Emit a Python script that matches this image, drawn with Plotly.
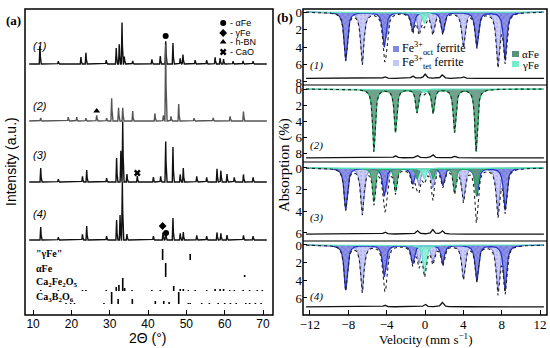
import numpy as np
import plotly.graph_objects as go

# ---------------- Panel (a): XRD patterns ----------------
two_theta_ticks = [10, 20, 30, 40, 50, 60, 70]

xrd1_pos = [11.8, 16.6, 22.5, 23.8, 29.1, 31.7, 32.5, 33.2, 33.8, 36.0, 41.0, 43.2, 44.6, 46.5, 48.4, 49.1, 52.3, 55.3, 57.5, 58.8, 59.7, 62.2, 64.8, 67.4]
xrd1_int = [19, 3, 7, 12, 4, 17, 21, 44, 8, 3, 5, 8, 24, 21, 6, 10, 4, 4, 7, 6, 5, 3, 3, 3]

xrd2_pos = [12.0, 19.2, 21.4, 23.8, 26.6, 29.2, 30.5, 32.3, 33.4, 36.0, 41.8, 44.0, 44.6, 46.0, 48.0, 52.0, 57.0, 61.4, 64.9]
xrd2_int = [3, 4, 4, 3, 6, 3, 24, 14, 14, 10, 8, 6, 81, 5, 17, 3, 3, 5, 10]

xrd3_pos = [12.0, 16.6, 22.9, 24.0, 29.2, 31.8, 32.9, 33.4, 34.5, 37.2, 41.4, 43.3, 44.6, 46.5, 48.4, 49.2, 52.7, 55.3, 58.0, 59.0, 60.6, 62.5, 64.9, 67.4]
xrd3_int = [14, 3, 6, 12, 4, 24, 33, 64, 8, 6, 5, 6, 43, 35, 8, 14, 6, 5, 14, 12, 8, 5, 8, 5]

xrd4_pos = [12.0, 16.6, 22.9, 24.0, 29.2, 31.8, 32.7, 33.3, 34.5, 41.4, 43.9, 44.6, 46.5, 48.4, 49.2, 52.7, 55.3, 58.0, 59.0, 60.6, 64.9, 67.4]
xrd4_int = [13, 3, 6, 14, 4, 20, 25, 58, 6, 4, 8, 8, 22, 7, 8, 5, 4, 8, 7, 5, 5, 4]

xrd_offsets = [251, 194, 133, 75]
xrd_labels = ["(1)", "(2)", "(3)", "(4)"]

# reference stick patterns
ref_names = ['"γFe"', "αFe", "Ca<sub>2</sub>Fe<sub>2</sub>O<sub>5</sub>", "Ca<sub>3</sub>B<sub>2</sub>O<sub>6</sub>"]
ref_offsets = [55, 38, 24, 11]
gfe_pos = [43.8, 51.0]
gfe_int = [11, 6]
afe_pos = [44.6, 65.2]
afe_int = [14, 2]
cfo_pos = [12.0, 16.6, 22.9, 23.8, 29.1, 31.7, 32.4, 33.4, 33.9, 35.8, 41.0, 43.2, 46.7, 48.4, 49.2, 50.5, 52.3, 55.3, 57.5, 58.8, 59.7, 61.3, 62.5, 64.8, 66.5, 68.5, 69.8]
cfo_int = [1, 1, 1, 1, 1, 4, 6, 13, 3, 1, 1, 1, 5, 2, 2, 1, 1, 1, 2, 2, 2, 1, 1, 1, 1, 1, 1]
cbo_pos = [18.6, 19.8, 20.8, 28.5, 30.5, 32.2, 35.9, 41.9, 44.1, 45.5, 48.0, 50.5, 51.0, 54.0, 56.0, 58.3, 60.0, 61.5, 63.0, 65.5, 66.5, 68.0, 69.5]
cbo_int = [1, 1, 1, 1, 12, 5, 5, 3, 3, 2, 12, 1, 1, 1, 1, 1, 1, 1, 1, 1, 1, 1, 1]

# phase markers on patterns
mark_x = [44.6, 26.6, 37.2, 43.8, 44.7]
mark_y = [279, 204, 142, 89, 82]
mark_sym = ["circle", "triangle-up", "x", "diamond", "circle"]
legend_a_sym = ["circle", "diamond", "triangle-up", "x"]
legend_a_txt = ["- αFe", "- γFe", "- h-BN", "- CaO"]

# ---------------- Panel (b): Mössbauer spectra ----------------
vel_ticks = [-12, -8, -4, 0, 4, 8, 12]
oct1_v = [-8.27, -4.25, -1.28, 1.85, 5.4, 8.35]; oct1_d = [5.5, 4.0, 2.2, 2.4, 4.0, 5.5]
tet1_v = [-6.54, -4.05, -0.62, 0.81, 4.0, 7.6];  tet1_d = [5.9, 2.9, 2.2, 2.4, 3.9, 6.0]
gfe1_v = [-0.08]; gfe1_d = [1.3]

afe2_v = [-5.33, -3.08, -0.84, 0.84, 3.08, 5.33]; afe2_d = [7.8, 5.4, 2.9, 3.0, 5.4, 7.8]
gfe2_v = [-0.1]; gfe2_d = [0.5]

oct3_v = [-8.27, -4.25, -1.28, 1.85, 5.4, 8.35]; oct3_d = [3.85, 2.6, 1.5, 1.6, 2.6, 3.9]
tet3_v = [-6.54, -4.05, -0.62, 0.81, 4.0, 7.6];  tet3_d = [4.2, 2.2, 1.6, 1.8, 3.0, 4.3]
afe3_v = [-5.33, -3.08, -0.84, 0.84, 3.08, 5.33]; afe3_d = [3.15, 2.2, 1.0, 1.0, 2.2, 2.5]
gfe3_v = [-0.08]; gfe3_d = [1.0]

oct4_v = [-8.27, -4.25, -1.28, 1.85, 5.4, 8.35]; oct4_d = [5.1, 3.6, 2.1, 2.2, 4.1, 5.2]
tet4_v = [-6.54, -4.05, -0.62, 0.81, 4.0, 7.6];  tet4_d = [5.3, 2.8, 2.0, 1.9, 3.8, 5.3]
gfe4_v = [-0.05]; gfe4_d = [3.2]

resid_levels = [7.6, 8.6, 6.1, 7.0]
resid1_v = [-4.2, -1.3, 0.0, 1.8, 4.0]; resid1_d = [-0.2, -0.3, -0.5, -0.4, -0.2]
resid2_v = [-3.1, -0.8, 0.8, 3.1]; resid2_d = [-0.3, -0.3, -0.4, -0.2]
resid3_v = [-4.2, -0.8, 0.8, 1.8]; resid3_d = [-0.2, -0.3, -0.4, -0.3]
resid4_v = [-4.2, 0.0, 1.8]; resid4_d = [-0.2, -0.3, -0.5]

sub_ranges = [[8.35, -0.35], [9.12, -0.5], [6.74, -0.55], [7.93, -0.45]]
sub_ticks = [[0, 2, 4, 6, 8], [0, 2, 4, 6, 8], [0, 2, 4, 6], [0, 2, 4, 6]]
sub_rows = [(9, 85), (85, 162), (162, 241), (241, 315)]

# ---------------- helpers ----------------
W, H = 550, 348
def P(px): return px / W
def Q(row): return 1 - row / H

FRAME_A = (25, 273, 9, 315)
FRAME_B = (303, 547, 9, 315)

SANS = "Liberation Sans, Arial, sans-serif"
SERIF = "Liberation Serif, Times New Roman, serif"

tt = np.arange(9.0, 71.0, 0.03)
def xrd_profile(pos, inten, base, hw=0.18):
    y = np.full_like(tt, float(base))
    for p, h in zip(pos, inten):
        y += h * np.clip(1 - np.abs(tt - p) / hw, 0, None)
    return y

vv = np.linspace(-12.4, 12.4, 2500)
def lor(vpos, depth, g):
    y = np.zeros_like(vv)
    for p, d in zip(vpos, depth):
        y += d * g * g / ((vv - p) ** 2 + g * g)
    return y

fig = go.Figure()

# ---- panel (a) traces ----
pats = [(xrd1_pos, xrd1_int), (xrd2_pos, xrd2_int), (xrd3_pos, xrd3_int), (xrd4_pos, xrd4_int)]
for i, (pp, ii) in enumerate(pats):
    col = "#555555" if i == 1 else "#111111"
    fig.add_trace(go.Scatter(x=tt, y=xrd_profile(pp, ii, xrd_offsets[i]), mode="lines",
                             line=dict(color=col, width=1.4), xaxis="x", yaxis="y", hoverinfo="skip"))

refs = [(gfe_pos, gfe_int), (afe_pos, afe_int), (cfo_pos, cfo_int), (cbo_pos, cbo_int)]
for i, (pp, ii) in enumerate(refs):
    xs, ys = [], []
    for p, h in zip(pp, ii):
        xs += [p, p, None]
        ys += [ref_offsets[i], ref_offsets[i] + h, None]
    fig.add_trace(go.Scatter(x=xs, y=ys, mode="lines", line=dict(color="black", width=1.6),
                             xaxis="x", yaxis="y", hoverinfo="skip"))

fig.add_trace(go.Scatter(x=mark_x, y=mark_y, mode="markers",
                         marker=dict(symbol=mark_sym, size=6, color="black"),
                         xaxis="x", yaxis="y", hoverinfo="skip"))
leg_rows = [23, 33, 42, 52]
fig.add_trace(go.Scatter(x=[59.6] * 4, y=[315 - r for r in leg_rows], mode="markers",
                         marker=dict(symbol=legend_a_sym, size=6, color="black"),
                         xaxis="x", yaxis="y", hoverinfo="skip"))

# ---- panel (b) traces ----
C_OCT_LINE = "#2430c0"; C_TET_LINE = "#7f86e6"
C_AFE_LINE = "#1fae5e"; C_GFE_LINE = "#5fe8c6"
oct_fill = dict(shape="x", fgcolor="#3c3cc8", bgcolor="rgba(130,135,228,0.9)", size=4, solidity=0.25)
tet_fill = dict(shape=".", fgcolor="#9a9ae8", bgcolor="rgba(195,198,246,0.9)", size=4, solidity=0.2)

subs = [
    dict(oct=(oct1_v, oct1_d), tet=(tet1_v, tet1_d), afe=None, gfe=(gfe1_v, gfe1_d), res=(resid1_v, resid1_d)),
    dict(oct=None, tet=None, afe=(afe2_v, afe2_d), gfe=(gfe2_v, gfe2_d), res=(resid2_v, resid2_d)),
    dict(oct=(oct3_v, oct3_d), tet=(tet3_v, tet3_d), afe=(afe3_v, afe3_d), gfe=(gfe3_v, gfe3_d), res=(resid3_v, resid3_d)),
    dict(oct=(oct4_v, oct4_d), tet=(tet4_v, tet4_d), afe=None, gfe=(gfe4_v, gfe4_d), res=(resid4_v, resid4_d)),
]
for k, s in enumerate(subs):
    ya = "y%d" % (k + 2)
    total = np.zeros_like(vv)
    if s["tet"]:
        y = lor(*s["tet"], 0.2); total += y
        fig.add_trace(go.Scatter(x=vv, y=y, mode="lines", fill="tozeroy", fillpattern=tet_fill,
                                 line=dict(color=C_TET_LINE, width=1), xaxis="x2", yaxis=ya, hoverinfo="skip"))
    if s["oct"]:
        y = lor(*s["oct"], 0.2); total += y
        fig.add_trace(go.Scatter(x=vv, y=y, mode="lines", fill="tozeroy", fillpattern=oct_fill,
                                 line=dict(color=C_OCT_LINE, width=1.2), xaxis="x2", yaxis=ya, hoverinfo="skip"))
    if s["afe"]:
        y = lor(*s["afe"], 0.16); total += y
        fig.add_trace(go.Scatter(x=vv, y=y, mode="lines", fill="tozeroy", fillcolor="rgba(90,145,125,0.85)",
                                 line=dict(color=C_AFE_LINE, width=1.2), xaxis="x2", yaxis=ya, hoverinfo="skip"))
    if s["gfe"]:
        y = lor(*s["gfe"], 0.2); total += y
        fig.add_trace(go.Scatter(x=vv, y=y, mode="lines", fill="tozeroy", fillcolor="rgba(120,235,205,0.8)",
                                 line=dict(color=C_GFE_LINE, width=1.2), xaxis="x2", yaxis=ya, hoverinfo="skip"))
    fig.add_trace(go.Scatter(x=vv, y=total, mode="lines", line=dict(color="#222222", width=1.1, dash="dot"),
                             xaxis="x2", yaxis=ya, hoverinfo="skip"))
    res = resid_levels[k] + lor(*s["res"], 0.15)
    fig.add_trace(go.Scatter(x=vv, y=res, mode="lines", line=dict(color="#111111", width=1.3),
                             xaxis="x2", yaxis=ya, hoverinfo="skip"))

# ---- layout ----
layout = dict(
    width=W, height=H, margin=dict(l=0, r=0, t=0, b=0, autoexpand=False),
    paper_bgcolor="white", plot_bgcolor="rgba(0,0,0,0)", showlegend=False,
    xaxis=dict(domain=[P(FRAME_A[0]), P(FRAME_A[1])], range=[7.9, 72.6], anchor="y",
               tickvals=two_theta_ticks, ticks="inside", ticklen=5, tickcolor="black",
               showgrid=False, zeroline=False, showline=False,
               tickfont=dict(family=SANS, size=12, color="black")),
    yaxis=dict(domain=[Q(FRAME_A[3]), Q(FRAME_A[2])], range=[0, 306], anchor="x",
               visible=False, showgrid=False, zeroline=False),
    xaxis2=dict(domain=[P(FRAME_B[0]), P(FRAME_B[1])], range=[-12.72, 12.72], anchor="y5",
                tickvals=vel_ticks, ticks="inside", ticklen=5, tickcolor="black",
                showgrid=False, zeroline=False, showline=False,
                tickfont=dict(family=SERIF, size=13, color="black")),
)
for k in range(4):
    r0, r1 = sub_rows[k]
    layout["yaxis%d" % (k + 2)] = dict(
        domain=[Q(r1), Q(r0)], range=sub_ranges[k], anchor="x2",
        tickvals=sub_ticks[k], ticks="inside", ticklen=4, tickcolor="black",
        showgrid=False, zeroline=False, showline=False,
        tickfont=dict(family=SERIF, size=13, color="black"))
fig.update_layout(**layout)

shapes = []
for (x0, x1, r0, r1) in [FRAME_A, FRAME_B]:
    shapes.append(dict(type="rect", xref="paper", yref="paper", x0=P(x0), x1=P(x1), y0=Q(r1), y1=Q(r0),
                       line=dict(color="black", width=1.5)))
for r in [85, 162, 241]:
    shapes.append(dict(type="line", xref="paper", yref="paper", x0=P(FRAME_B[0]), x1=P(FRAME_B[1]),
                       y0=Q(r), y1=Q(r), line=dict(color="black", width=1.2)))
sw = [(393, 399, 46, 52, "rgba(130,135,228,1)"), (393, 399, 60, 66, "rgba(195,198,246,1)"),
      (512, 519, 51, 57, "rgba(90,145,125,1)"), (512, 519, 61, 67, "rgba(120,235,205,1)")]
for (x0, x1, r0, r1, c) in sw:
    shapes.append(dict(type="rect", xref="paper", yref="paper", x0=P(x0), x1=P(x1), y0=Q(r1), y1=Q(r0),
                       fillcolor=c, line=dict(width=0)))
fig.update_layout(shapes=shapes)

ann = []
def A(text, px, row, size=12, family=SANS, xanchor="center", angle=0, bold=False, italic=False):
    t = text
    if bold: t = "<b>%s</b>" % t
    if italic: t = "<i>%s</i>" % t
    ann.append(dict(text=t, x=P(px), y=Q(row), xref="paper", yref="paper", showarrow=False,
                    xanchor=xanchor, yanchor="middle", textangle=angle,
                    font=dict(family=family, size=size, color="black")))

A("(a)", 13, 20, size=13, family=SERIF, bold=True)
A("(b)", 285, 18, size=13, family=SERIF, bold=True)
A("Intensity (a.u.)", 11, 162, size=14, angle=-90)
A("2Θ (°)", 148, 338, size=14)
A("Absorption (%)", 284, 165, size=15, family=SERIF, angle=-90)
A("Velocity (mm s<sup>−1</sup>)", 425, 339, size=13, family=SERIF)
for lbl, row in zip(xrd_labels, [46, 106, 155, 214]):
    A(lbl, 40, row, size=11, italic=True)
for nm, row in zip(ref_names, [253, 268, 282, 297]):
    A(nm, 34, row, size=10, family=SERIF, xanchor="left", bold=True)
for txt, row in zip(legend_a_txt, leg_rows):
    A(txt, 228, row, size=9, xanchor="left")
for lbl, row in zip(xrd_labels, [65, 145, 218, 296]):
    A(lbl, 316, row, size=11, family=SERIF, italic=True)
A("Fe<sup>3+</sup><sub>oct</sub> ferrite", 400, 49, size=12, family=SERIF, xanchor="left")
A("Fe<sup>3+</sup><sub>tet</sub> ferrite", 400, 63, size=12, family=SERIF, xanchor="left")
A("αFe", 520, 54, size=11, family=SERIF, xanchor="left")
A("γFe", 520, 65, size=11, family=SERIF, xanchor="left")
fig.update_layout(annotations=ann)

fig.write_html("out.html", config={"displayModeBar": False},
               post_script="document.body.style.margin='0';document.body.style.overflow='hidden';")
